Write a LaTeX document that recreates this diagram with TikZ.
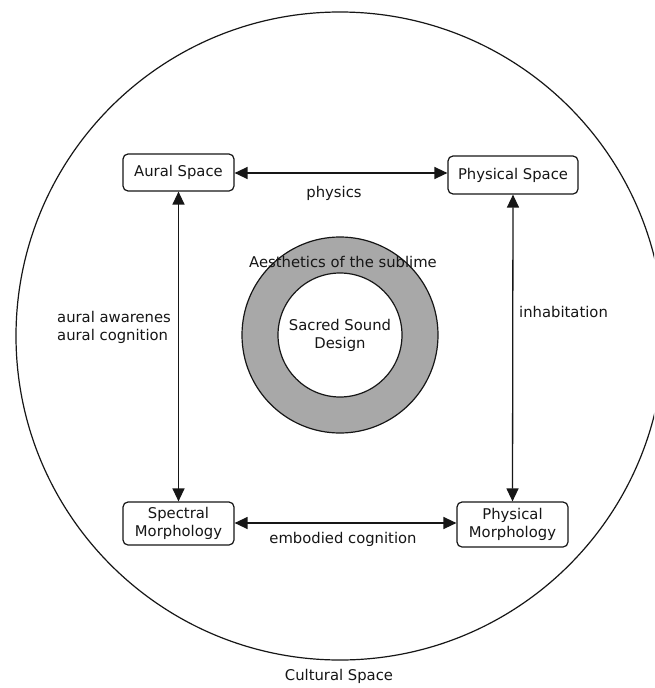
\documentclass[tikz,border=0pt]{standalone}
\usepackage{fontspec}
\setmainfont{DejaVu Sans}
\usetikzlibrary{arrows.meta}
\definecolor{ringgray}{RGB}{168,168,168}
\definecolor{ink}{RGB}{22,22,22}
\tikzset{
  box/.style={draw=ink, line width=1.2pt, rounded corners=5pt, fill=white, align=center, inner sep=2pt, text=ink},
  link/.style={draw=ink, line width=1.3pt, {Triangle[length=13pt,width=12pt]}-{Triangle[length=13pt,width=12pt]}},
  lbl/.style={text=ink, inner sep=0pt},
}
\begin{document}
\begin{tikzpicture}[x=1pt,y=-1pt, font=\fontsize{14.8}{18}\selectfont]
\clip (0,0) rectangle (654,688);
\fill[white] (0,0) rectangle (654,688);
% outer cultural space circle
\node[circle, draw=ink, line width=1.2pt, minimum size=648pt, inner sep=0pt] (outer) at (340,336) {};
% ring
\node[circle, draw=ink, line width=1.2pt, fill=ringgray, minimum size=196pt, inner sep=0pt] (ring) at (340,335) {};
\node[circle, draw=ink, line width=1.2pt, fill=white, minimum size=124pt, inner sep=0pt, align=center, text=ink] (core) at (340,335) {Sacred Sound\\Design};
\node[lbl] (aest) at (343,262) {Aesthetics of the sublime};
% boxes
\node[box, minimum width=111pt, minimum height=37pt] (aural) at (178.5,172.5) {Aural Space};
\node[box, minimum width=130pt, minimum height=38pt] (phys) at (513,175) {Physical Space};
\node[box, minimum width=111pt, minimum height=43pt] (spec) at (178.5,523.5) {Spectral\\Morphology};
\node[box, minimum width=111pt, minimum height=45pt] (pmorph) at (512.5,524.5) {Physical\\Morphology};
% connectors
\draw[link] (aural.east |- 0,173) -- (phys.west |- 0,173);
\draw[link] (spec.east |- 0,523) -- (pmorph.west |- 0,523);
\draw[link] (aural.south) -- (spec.north);
\draw[link] (phys.south) -- (pmorph.north);
% labels
\node[lbl] (lphys) at (334,193) {physics};
\node[lbl] (lemb) at (343,539) {embodied cognition};
\node[lbl, anchor=west, align=left] (laur) at (57,327) {aural awarenes\\aural cognition};
\node[lbl, anchor=west] (linh) at (519,312) {inhabitation};
\node[lbl] (cult) at (339,676) {Cultural Space};
\end{tikzpicture}
\end{document}
